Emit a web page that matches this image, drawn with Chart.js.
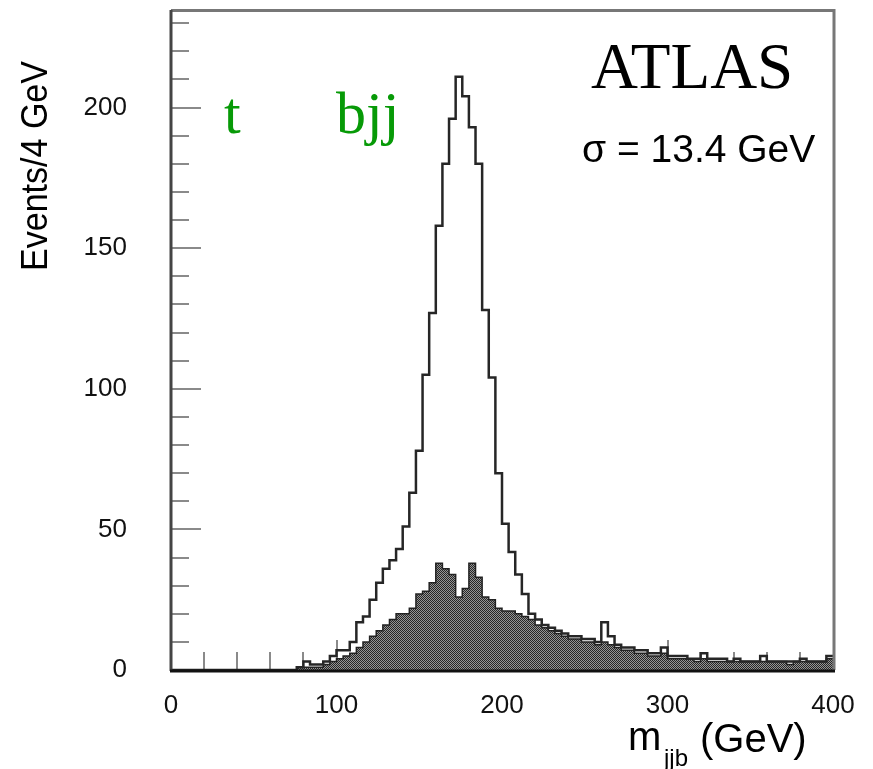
<!DOCTYPE html>
<html><head><meta charset="utf-8">
<script src="https://cdn.jsdelivr.net/npm/chart.js@4/dist/chart.umd.min.js"></script>
<style>html,body{margin:0;padding:0;background:#fff;overflow:hidden}#wrap{width:873px;height:769px;position:relative}</style>
</head><body><div id="wrap"><canvas id="c" width="873" height="769"></canvas></div>
<script>
// lower edges of the 4 GeV bins (GeV)
const binLow = [0,4,8,12,16,20,24,28,32,36,40,44,48,52,56,60,64,68,72,76,
80,84,88,92,96,100,104,108,112,116,120,124,128,132,136,140,144,148,152,156,
160,164,168,172,176,180,184,188,192,196,200,204,208,212,216,220,224,228,232,236,
240,244,248,252,256,260,264,268,272,276,280,284,288,292,296,300,304,308,312,316,
320,324,328,332,336,340,344,348,352,356,360,364,368,372,376,380,384,388,392,396];
const xUpper = 400;
// total (open histogram), events per bin
const totalEvents = [0,0,0,0,0,0,0,0,0,0,0,0,0,0,0,0,0,0,0,1,
3,2,2,3,5,7,7,10,17,19,25,31,36,39,43,51,63,78,105,127,
158,180,196,211,204,193,180,128,104,70,52,42,34,27,20,18,16,15,14,13,
12,12,11,11,10,17,12,9,8,8,7,7,6,6,8,5,5,5,4,4,
6,4,4,4,3,4,3,3,3,5,3,3,3,3,3,4,3,3,3,5];
// combinatorial part (hatched histogram)
const hatchedEvents = [0,0,0,0,0,0,0,0,0,0,0,0,0,0,0,0,0,0,0,1,
1,1,1,2,3,4,5,6,8,10,12,14,16,18,20,20,22,27,28,31,
38,36,34,26,29,38,33,26,25,22,21,21,20,19,18,16,15,14,13,12,
11,11,10,10,9,10,9,8,7,7,6,6,5,5,6,4,4,4,4,3,
4,3,3,3,3,3,3,3,3,3,3,3,3,2,3,3,3,3,3,4];
const xTicks = [0,100,200,300,400];
const yTicks = [0,50,100,150,200];
const xTitleMain = 'm', xTitleSub = 'jjb', xTitleUnit = '(GeV)';
const yTitle = 'Events/4 GeV';
const expLabel = 'ATLAS';
const widthLabel = 'σ = 13.4 GeV';
const decayLeft = 't', decayRight = 'bjj';

function toPoints(vals){
  const pts = binLow.map((x,i)=>({x:x,y:vals[i]}));
  pts.push({x:xUpper,y:vals[vals.length-1]});
  return pts;
}
const pc = document.createElement('canvas'); pc.width=2; pc.height=2;
const pctx = pc.getContext('2d');
pctx.fillStyle='#959595'; pctx.fillRect(0,0,2,2);
pctx.fillStyle='#262626'; pctx.fillRect(0,0,1,1); pctx.fillRect(1,1,1,1);
const hatch = pctx.createPattern(pc,'repeat');

const deco = {
  id:'deco',
  beforeDatasetsDraw(chart){
    const ctx=chart.ctx, xs=chart.scales.x, ys=chart.scales.y, a=chart.chartArea;
    ctx.save();
    ctx.strokeStyle='#8a8a8a'; ctx.lineWidth=2;
    for(let v=10; v<=230; v+=10){
      const y=Math.round(ys.getPixelForValue(v));
      const len = v%50===0 ? 30 : 18;
      ctx.beginPath(); ctx.moveTo(a.left,y); ctx.lineTo(a.left+len,y); ctx.stroke();
    }
    for(let v=20; v<400; v+=20){
      const x=Math.round(xs.getPixelForValue(v));
      const len = v%100===0 ? 30 : 18;
      ctx.beginPath(); ctx.moveTo(x,a.bottom); ctx.lineTo(x,a.bottom-len); ctx.stroke();
    }
    ctx.restore();
  },
  afterDraw(chart){
    const ctx=chart.ctx, a=chart.chartArea;
    ctx.save();
    ctx.lineWidth=3;
    ctx.strokeStyle='#777';
    ctx.beginPath(); ctx.moveTo(a.left,10.5); ctx.lineTo(a.right+1,10.5); ctx.lineTo(a.right+1,a.bottom); ctx.stroke();
    ctx.strokeStyle='#444';
    ctx.beginPath(); ctx.moveTo(a.left,10); ctx.lineTo(a.left,a.bottom+1); ctx.stroke();
    ctx.strokeStyle='#111';
    ctx.beginPath(); ctx.moveTo(a.left-1,a.bottom+1); ctx.lineTo(a.right+2,a.bottom+1); ctx.stroke();
    ctx.textBaseline='alphabetic'; ctx.textAlign='left';
    ctx.fillStyle='#000';
    ctx.font='65px "Liberation Serif"';
    ctx.fillText(expLabel,591,88,208);
    ctx.font='39px "Liberation Sans"';
    ctx.fillText(widthLabel,582,162,238);
    ctx.fillStyle='#079a07';
    ctx.font='60px "Liberation Serif"';
    ctx.fillText(decayLeft,224,133);
    ctx.fillText(decayRight,336,133);
    ctx.fillStyle='#000';
    ctx.font='40px "Liberation Sans"';
    ctx.fillText(xTitleMain,628,750,34);
    ctx.font='24px "Liberation Sans"';
    ctx.fillText(xTitleSub,664,766,32);
    ctx.font='40px "Liberation Sans"';
    ctx.fillText(xTitleUnit,700,752,116);
    ctx.translate(47,271); ctx.rotate(-Math.PI/2);
    ctx.font='36px "Liberation Sans"';
    ctx.fillText(yTitle,0,0,210);
    ctx.restore();
  }
};

new Chart(document.getElementById('c'),{
  type:'line',
  data:{datasets:[
    {label:'all',data:toPoints(totalEvents),stepped:'before',borderColor:'#262626',borderWidth:2.5,fill:false,pointRadius:0,tension:0},
    {label:'combinatorial',data:toPoints(hatchedEvents),stepped:'before',borderColor:'#222',borderWidth:1.5,backgroundColor:hatch,fill:'origin',pointRadius:0,tension:0}
  ]},
  options:{
    responsive:false, animation:false, devicePixelRatio:1,
    layout:{padding:{left:0,right:40,top:12,bottom:0}},
    plugins:{legend:{display:false},tooltip:{enabled:false}},
    scales:{
      x:{type:'linear',min:0,max:400,bounds:'data',
        afterDataLimits(s){ s.min=0; s.max=400; },
        afterBuildTicks(s){ s.ticks = xTicks.map(v=>({value:v})); },
        afterFit(s){ s.height = 99; s.paddingLeft=0; s.paddingRight=0; },
        grid:{display:false,drawTicks:false}, border:{display:false},
        ticks:{font:{family:'Liberation Sans',size:26},color:'#111',padding:20,maxRotation:0,autoSkip:false}},
      y:{type:'linear',min:0,max:234,bounds:'data',
        afterDataLimits(s){ s.min=0; s.max=234; },
        afterBuildTicks(s){ s.ticks = yTicks.map(v=>({value:v})); },
        afterFit(s){ s.width = 171; s.paddingTop=0; s.paddingBottom=0; },
        grid:{display:false,drawTicks:false}, border:{display:false},
        ticks:{font:{family:'Liberation Sans',size:26},color:'#111',padding:44,autoSkip:false}}
    }
  },
  plugins:[deco]
});
</script>
</body></html>
